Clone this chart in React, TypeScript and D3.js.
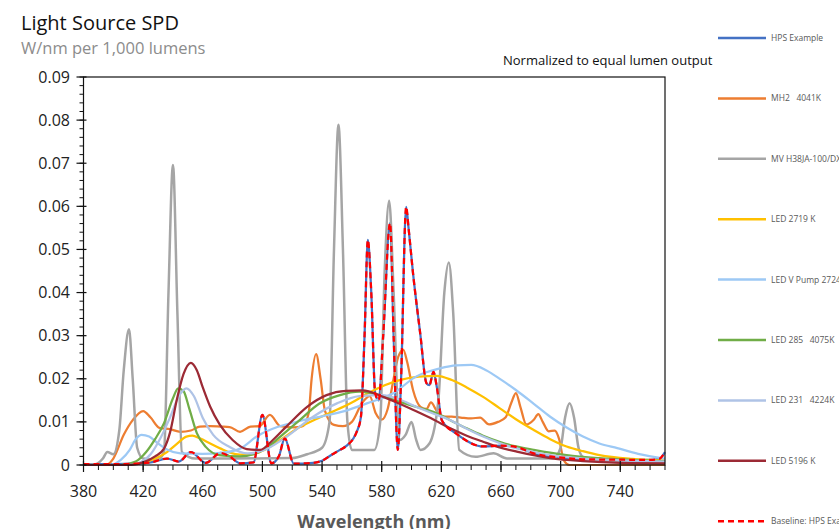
import React from 'react';
import * as d3 from 'd3';

// wavelength (nm), W/nm per 1,000 lm
const hpsExample = [
  [380, 0.0002], [400, 0.0002], [415, 0.0003], [425, 0.0006], [436, 0.0015], [444, 0.0008],
  [452, 0.003], [462, 0.0005], [472, 0.0028], [478, 0.002], [485, 0.0004], [494, 0.0006],
  [500, 0.0116], [506, 0.0004], [511, 0.002], [515, 0.0062], [521, 0.0003], [534, 0.0005],
  [540, 0.001], [547, 0.0025], [552, 0.0035], [557, 0.0046], [563, 0.0075], [566, 0.011],
  [568.5, 0.03], [570.7, 0.0522], [573, 0.04], [575.6, 0.0167], [578, 0.015], [581, 0.03],
  [585.6, 0.0561], [588, 0.03], [590.8, 0.0035], [593, 0.02], [596.4, 0.0599], [598, 0.055],
  [601, 0.0445], [605.8, 0.0306], [610, 0.019], [612, 0.0185], [614.7, 0.0216], [617, 0.018],
  [620.3, 0.0104], [630, 0.0073], [648, 0.0043], [660, 0.0045], [670, 0.0042], [682, 0.0027],
  [704, 0.0016], [720, 0.0013], [760, 0.0012], [766, 0.0014], [770, 0.003],
];

const mh2 = [
  [380, 0], [395, 0], [400, 0.0015], [407, 0.007], [413, 0.0104], [420, 0.0125], [425, 0.011],
  [431, 0.0086], [438, 0.0083], [445, 0.0077], [452, 0.008], [458, 0.0089], [465, 0.009],
  [472, 0.0089], [478, 0.0088], [485, 0.0077], [492, 0.0089], [498, 0.009], [505, 0.0116],
  [512, 0.009], [521, 0.0087], [527, 0.009], [531, 0.012], [533, 0.02], [536, 0.0257],
  [539, 0.02], [542, 0.0125], [548, 0.0093], [554, 0.009], [560, 0.01], [567, 0.0145],
  [572, 0.016], [576, 0.012], [580, 0.0105], [584, 0.013], [588, 0.02], [591, 0.025],
  [594.5, 0.0267], [597, 0.024], [601, 0.0174], [606, 0.0135], [610, 0.013], [613, 0.0145],
  [617, 0.0125], [621, 0.0113], [627, 0.0112], [633, 0.011], [640, 0.0108], [646, 0.011],
  [652, 0.0094], [658, 0.01], [663, 0.011], [667, 0.0145], [670, 0.0167], [673, 0.0135],
  [677, 0.0094], [682, 0.0105], [685, 0.0118], [688, 0.01], [692, 0.0078], [696, 0.008],
  [699, 0.006], [702, 0.0012], [706, 0], [770, 0],
];

const mvH38 = [
  [380, 0.0001], [388, 0.0002], [393, 0.0015], [396, 0.003], [400, 0.0025], [404, 0.008],
  [407, 0.022], [410.5, 0.0315], [413, 0.02], [416, 0.004], [420, 0.0015], [430, 0.0013],
  [434, 0.003], [437, 0.04], [440, 0.0696], [443, 0.035], [446, 0.003], [455, 0.0015],
  [480, 0.0015], [520, 0.0016], [530, 0.0025], [540, 0.004], [545, 0.01], [548, 0.05],
  [551, 0.0789], [554, 0.05], [557, 0.01], [560, 0.0035], [575, 0.0035], [579, 0.01],
  [582, 0.045], [585, 0.0613], [588, 0.04], [592, 0.0058], [596, 0.007], [600, 0.01],
  [603, 0.006], [606, 0.0035], [612, 0.005], [618, 0.015], [622, 0.04], [625, 0.047],
  [628, 0.035], [632, 0.0035], [643, 0.0019], [655, 0.0027], [664, 0.0015], [695, 0.0015],
  [700, 0.004], [703, 0.011], [706, 0.0143], [709, 0.011], [712, 0.004], [715, 0.0019],
  [730, 0.001], [770, 0.0008],
];

const led2719 = [
  [380, 0], [405, 0], [415, 0.0003], [422, 0.0008], [430, 0.0018], [436, 0.003], [443, 0.005],
  [449, 0.0066], [453, 0.0068], [458, 0.0062], [465, 0.005], [472, 0.0038], [478, 0.0029],
  [485, 0.0024], [492, 0.0024], [500, 0.0033], [512, 0.0058], [525, 0.0088], [537, 0.0108],
  [548, 0.0125], [560, 0.0145], [570, 0.0165], [582, 0.0185], [592, 0.0197], [605, 0.0205],
  [617, 0.0207], [627, 0.0197], [637, 0.018], [648, 0.0158], [659, 0.0132], [670, 0.0106],
  [682, 0.0081], [693, 0.006], [704, 0.0043], [715, 0.0032], [726, 0.0023], [748, 0.0014],
  [770, 0.001],
];

const ledVPump = [
  [380, 0], [398, 0], [405, 0.0012], [411, 0.0035], [415, 0.006], [419, 0.007], [424, 0.0066],
  [430, 0.005], [436, 0.0036], [445, 0.0027], [460, 0.0026], [472, 0.0028], [485, 0.0038],
  [497, 0.0068], [510, 0.0088], [525, 0.0102], [540, 0.0113], [555, 0.0125], [570, 0.0143],
  [588, 0.0167], [603, 0.0205], [619, 0.0224], [630, 0.0231], [640, 0.0232], [650, 0.022],
  [660, 0.0198], [670, 0.0174], [682, 0.0142], [693, 0.0112], [704, 0.0087], [715, 0.0066],
  [726, 0.005], [738, 0.0039], [752, 0.0026], [770, 0.0015],
];

const led285 = [
  [380, 0], [405, 0], [415, 0.0008], [422, 0.003], [428, 0.006], [434, 0.0097], [440, 0.0155],
  [443.5, 0.0178], [447, 0.0172], [451, 0.013], [456, 0.0074], [462, 0.0042], [471, 0.0023],
  [485, 0.002], [494, 0.0025], [503, 0.004], [512, 0.0066], [525, 0.0104], [538, 0.0142],
  [552, 0.0162], [565, 0.017], [578, 0.0163], [592, 0.0147], [604, 0.0134], [615, 0.0123],
  [626, 0.0104], [637, 0.0085], [648, 0.0068], [659, 0.0054], [670, 0.0043], [682, 0.0035],
  [704, 0.0023], [726, 0.0016], [770, 0.0009],
];

const led231 = [
  [380, 0], [410, 0], [418, 0.0006], [425, 0.0025], [432, 0.0065], [438, 0.011], [444, 0.016],
  [449, 0.0178], [454, 0.016], [460, 0.0109], [467, 0.007], [478, 0.0042], [490, 0.0027],
  [500, 0.0033], [516, 0.0065], [534, 0.0112], [550, 0.0143], [565, 0.016], [580, 0.0162],
  [592, 0.0152], [603, 0.0135], [614, 0.012], [626, 0.0104], [637, 0.0084], [648, 0.0066],
  [659, 0.0051], [670, 0.0039], [682, 0.003], [693, 0.0023], [715, 0.0015], [740, 0.0011],
  [770, 0.0008],
];

const led5196 = [
  [380, 0], [410, 0], [420, 0.0006], [428, 0.002], [434, 0.0038], [438, 0.0075], [442.5, 0.015],
  [447, 0.021], [452, 0.0237], [456, 0.022], [460, 0.018], [465, 0.0135], [471.5, 0.0093],
  [480, 0.0058], [489.5, 0.0037], [498.5, 0.0035], [507, 0.0058], [516, 0.0089], [530, 0.0135],
  [543, 0.0162], [556, 0.0172], [567, 0.0173], [581, 0.0158], [592, 0.0142], [603.5, 0.0124],
  [615, 0.0105], [626, 0.0085], [637, 0.0068], [648, 0.0054], [659, 0.0041], [670.6, 0.0031],
  [693, 0.0016], [715, 0.0009], [740, 0.0005], [770, 0.0004],
];

// baseline is the HPS example itself
const baseline = hpsExample;

const seriesNames = [
  'HPS Example', 'MH2   4041K', 'MV H38JA-100/DX', 'LED 2719 K', 'LED V Pump 2724 K',
  'LED 285   4075K', 'LED 231   4224K', 'LED 5196 K', 'Baseline: HPS Example',
];
const seriesData = [hpsExample, mh2, mvH38, led2719, ledVPump, led285, led231, led5196, baseline];

const xTicks = [380, 420, 460, 500, 540, 580, 620, 660, 700, 740];
const yTicks = [0, 0.01, 0.02, 0.03, 0.04, 0.05, 0.06, 0.07, 0.08, 0.09];

const colors = ['#4472C4', '#ED7D31', '#A5A5A5', '#FFC000', '#9DC9F5', '#70AD47', '#AFC3E6', '#9C2A35', '#FF0000'];

const App = () => {
  const width = 839, height = 529;
  const left = 83.5, right = 665, top = 77, bottom = 465;
  const font = '"Open Sans", "Noto Sans", sans-serif';

  const xScale = d3.scaleLinear().domain([380, 770]).range([left, right]);
  const yScale = d3.scaleLinear().domain([0, 0.09]).range([bottom, top]);

  const line = d3.line<number[]>()
    .x(d => xScale(d[0]))
    .y(d => yScale(d[1]))
    .curve(d3.curveMonotoneX);

  const xMinor = d3.range(380, 771, 10);
  const yMinor = d3.range(0, 0.0901, 0.002);

  const legendY = (i: number) => 38 + i * 60.4;

  return (
    <svg width={width} height={height} style={{ position: 'absolute', left: 0, top: 0, background: '#fff' }}>
      <text x={21} y={30} fontFamily={font} fontSize={20} fill='#111'>Light Source SPD</text>
      <text x={21} y={54} fontFamily={font} fontSize={16.5} fill='#8c8c8c'>W/nm per 1,000 lumens</text>
      <text x={503} y={65} fontFamily={font} fontSize={13} fill='#111'>Normalized to equal lumen output</text>

      {/* series */}
      <g clipPath='url(#plotClip)'>
        {seriesData.map((d, i) => (
          <path key={i} d={line(d) || ''} fill='none' stroke={colors[i]}
            strokeWidth={i === 2 ? 2.5 : 2.25}
            strokeDasharray={i === 8 ? '6,4' : undefined}
            strokeLinejoin='round' />
        ))}
      </g>
      <defs>
        <clipPath id='plotClip'>
          <rect x={left} y={top - 5} width={right - left + 3} height={bottom - top + 6} />
        </clipPath>
      </defs>

      {/* frame */}
      <rect x={left} y={top} width={right - left} height={bottom - top} fill='none' stroke='#111' strokeWidth={1.2} />

      {/* y axis ticks */}
      {yMinor.map((v, i) => (
        <line key={'ym' + i} x1={left - 4} x2={left} y1={yScale(v)} y2={yScale(v)} stroke='#111' strokeWidth={1} />
      ))}
      {yTicks.map(v => (
        <g key={'y' + v}>
          <line x1={left - 7} x2={left + 3} y1={yScale(v)} y2={yScale(v)} stroke='#111' strokeWidth={1.2} />
          <text x={70} y={yScale(v)} dy='0.35em' textAnchor='end' fontFamily={font} fontSize={16} fill='#222'>
            {v === 0 ? '0' : v.toFixed(2)}
          </text>
        </g>
      ))}

      {/* x axis ticks */}
      {xMinor.map(v => (
        <line key={'xm' + v} x1={xScale(v)} x2={xScale(v)} y1={bottom} y2={bottom + 5} stroke='#111' strokeWidth={1} />
      ))}
      {xTicks.map(v => (
        <g key={'x' + v}>
          <line x1={xScale(v)} x2={xScale(v)} y1={bottom - 4} y2={bottom + 7} stroke='#111' strokeWidth={1.2} />
          <text x={xScale(v)} y={497} textAnchor='middle' fontFamily={font} fontSize={16} fill='#222'>{v}</text>
        </g>
      ))}
      <text x={374} y={528} textAnchor='middle' fontFamily={font} fontSize={18} fontWeight='bold' fill='#595959'>Wavelength (nm)</text>

      {/* legend */}
      {seriesNames.map((name, i) => (
        <g key={name}>
          <line x1={718} x2={766} y1={legendY(i)} y2={legendY(i)} stroke={colors[i]} strokeWidth={2.5}
            strokeDasharray={i === 8 ? '6,4' : undefined} />
          <text x={771} y={legendY(i)} dy='0.35em' fontFamily={font} fontSize={8.5} fill='#595959'
            style={{ whiteSpace: 'pre' }}>{name}</text>
        </g>
      ))}
    </svg>
  );
};

export default App;
